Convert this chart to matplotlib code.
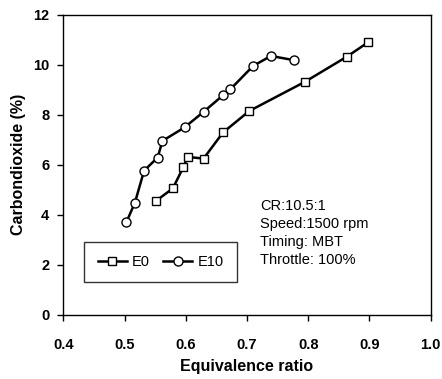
import matplotlib
matplotlib.use("Agg")
import matplotlib.pyplot as plt

plt.rcParams['font.family'] = ['Liberation Sans', 'DejaVu Sans']

# Data
e0_phi = [0.551, 0.579, 0.596, 0.603, 0.629, 0.661, 0.704, 0.795, 0.863, 0.898]
e0_co2 = [4.55, 5.06, 5.91, 6.32, 6.25, 7.30, 8.16, 9.33, 10.33, 10.91]
e10_phi = [0.503, 0.517, 0.532, 0.554, 0.562, 0.598, 0.629, 0.661, 0.673, 0.710, 0.739, 0.777]
e10_co2 = [3.70, 4.49, 5.77, 6.29, 6.96, 7.50, 8.12, 8.79, 9.03, 9.96, 10.36, 10.19]
series_labels = ["E0", "E10"]
x_ticks = [0.4, 0.5, 0.6, 0.7, 0.8, 0.9, 1.0]
x_tick_labels = ["0.4", "0.5", "0.6", "0.7", "0.8", "0.9", "1.0"]
y_ticks = [0, 2, 4, 6, 8, 10, 12]
x_label = "Equivalence ratio"
y_label = "Carbondioxide (%)"
note_lines = ["CR:10.5:1", "Speed:1500 rpm", "Timing: MBT", "Throttle: 100%"]

W, H = 442, 379
fig = plt.figure(figsize=(W / 100, H / 100), dpi=100)
ax = fig.add_axes([63.3 / W, 1 - 314.7 / H, (430.7 - 63.3) / W, (314.7 - 15) / H])

l1, = ax.plot(e0_phi, e0_co2, color='black', lw=1.8, marker='s', ms=6,
              mfc='white', mec='black', mew=1.0, label=series_labels[0], zorder=3)
l2, = ax.plot(e10_phi, e10_co2, color='black', lw=1.8, marker='o', ms=6.5,
              mfc='white', mec='black', mew=1.0, label=series_labels[1], zorder=3)

ax.set_xlim(0.4, 1.0)
ax.set_ylim(0, 12)
ax.set_xticks(x_ticks)
ax.set_xticklabels(x_tick_labels)
ax.set_yticks(y_ticks)
for lab in ax.get_xticklabels() + ax.get_yticklabels():
    lab.set_fontweight('bold')
    lab.set_fontsize(10.5)
ax.tick_params(direction='out', length=4, width=1, top=False, right=False)
ax.tick_params(axis='x', pad=13)
ax.tick_params(axis='y', pad=6)
for s in ax.spines.values():
    s.set_linewidth(1.0)

ax.set_xlabel(x_label, fontsize=11.5, fontweight='bold', labelpad=5)
ax.set_ylabel(y_label, fontsize=11.5, fontweight='bold', labelpad=5)

leg = ax.legend(handles=[l1, l2], loc='center', ncol=2,
                bbox_to_anchor=(160.5 / W, 1 - 262 / H), bbox_transform=fig.transFigure,
                fontsize=10.5, frameon=True, fancybox=False, borderpad=0.9,
                handlelength=2.0, handletextpad=0.35, columnspacing=0.9)
leg.get_frame().set_edgecolor('black')
leg.get_frame().set_linewidth(1.0)

fig.text(260 / W, 1 - 199 / H, "\n".join(note_lines), fontsize=10.5,
         va='top', ha='left', linespacing=1.35)

fig.savefig("out.png", dpi=100)
